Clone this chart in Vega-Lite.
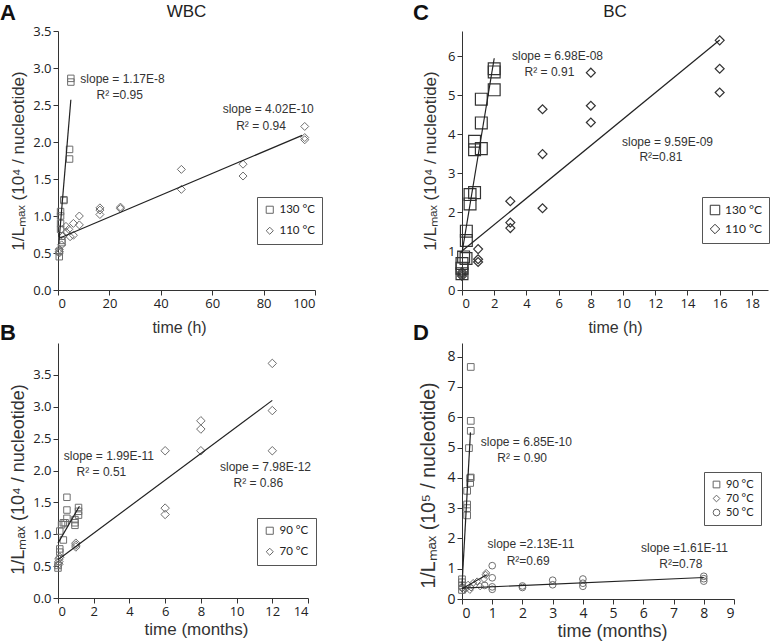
{
  "$schema": "https://vega.github.io/schema/vega-lite/v6.json",
  "autosize": {"type": "none"},
  "padding": {"left": 58, "top": 31, "right": 713, "bottom": 610},
  "background": "white",
  "bounds": "flush",
  "columns": 2,
  "align": "each",
  "spacing": {"row": 53, "column": 147},
  "config": {
    "view": {"stroke": null},
    "axis": {"grid": false, "domainColor": "#333", "tickColor": "#333", "labelColor": "#222", "labelFont": "Open Sans", "labelFontSize": 13, "titleFont": "Liberation Sans", "titleFontSize": 17, "titleFontWeight": "normal", "titleColor": "#333", "tickSize": 5, "labelPadding": 2},
    "legend": {"labelFont": "Lato", "labelFontSize": 11.5, "labelColor": "#222", "strokeColor": "#555", "padding": 7, "rowPadding": 8, "symbolStrokeWidth": 1, "symbolStrokeColor": "#666", "symbolFillColor": "transparent", "symbolSize": 50, "labelOffset": 4},
    "title": {"font": "Liberation Sans", "fontSize": 22, "fontWeight": "bold", "color": "#111", "anchor": "start", "frame": "group"},
    "text": {"font": "Liberation Sans", "fontSize": 12, "color": "#333"}
  },
  "resolve": {"scale": {"shape": "independent", "x": "independent", "y": "independent"}, "legend": {"shape": "independent"}},
  "concat": [
    {
      "width": 257, "height": 259,
      "data": {"values": [
        {"t": 0.5, "v": 0.45, "temp": "130 °C"}, {"t": 0.5, "v": 0.52, "temp": "130 °C"},
        {"t": 1.5, "v": 0.64, "temp": "130 °C"}, {"t": 1.5, "v": 0.67, "temp": "130 °C"},
        {"t": 1, "v": 0.82, "temp": "130 °C"}, {"t": 1, "v": 0.9, "temp": "130 °C"},
        {"t": 1, "v": 1.0, "temp": "130 °C"}, {"t": 1, "v": 1.06, "temp": "130 °C"},
        {"t": 2.3, "v": 1.21, "temp": "130 °C"}, {"t": 2.3, "v": 1.22, "temp": "130 °C"},
        {"t": 4.5, "v": 1.77, "temp": "130 °C"}, {"t": 4.5, "v": 1.9, "temp": "130 °C"},
        {"t": 5, "v": 2.81, "temp": "130 °C"}, {"t": 5, "v": 2.86, "temp": "130 °C"},
        {"t": 0.5, "v": 0.5, "temp": "110 °C"}, {"t": 0.5, "v": 0.52, "temp": "110 °C"},
        {"t": 0.5, "v": 0.55, "temp": "110 °C"}, {"t": 1.4, "v": 0.61, "temp": "110 °C"},
        {"t": 2, "v": 0.73, "temp": "110 °C"}, {"t": 3.2, "v": 0.78, "temp": "110 °C"},
        {"t": 3.1, "v": 0.86, "temp": "110 °C"}, {"t": 4.2, "v": 0.82, "temp": "110 °C"},
        {"t": 4.7, "v": 0.72, "temp": "110 °C"}, {"t": 6, "v": 0.9, "temp": "110 °C"},
        {"t": 6, "v": 0.74, "temp": "110 °C"}, {"t": 8.3, "v": 1.0, "temp": "110 °C"},
        {"t": 8.3, "v": 0.88, "temp": "110 °C"}, {"t": 16.3, "v": 1.11, "temp": "110 °C"},
        {"t": 16.3, "v": 1.08, "temp": "110 °C"}, {"t": 16.3, "v": 1.02, "temp": "110 °C"},
        {"t": 24.3, "v": 1.12, "temp": "110 °C"}, {"t": 24.3, "v": 1.1, "temp": "110 °C"},
        {"t": 48, "v": 1.63, "temp": "110 °C"}, {"t": 48, "v": 1.36, "temp": "110 °C"},
        {"t": 72, "v": 1.7, "temp": "110 °C"}, {"t": 72, "v": 1.54, "temp": "110 °C"},
        {"t": 96, "v": 2.21, "temp": "110 °C"}, {"t": 96, "v": 2.06, "temp": "110 °C"},
        {"t": 96, "v": 2.03, "temp": "110 °C"}
      ]},
      "encoding": {
        "x": {"field": "t", "type": "quantitative", "scale": {"domain": [0, 100], "nice": false}, "axis": {"values": [0, 20, 40, 60, 80, 100], "title": "time (h)", "titleFontSize": 16, "titlePadding": 9, "titleX": 121}},
        "y": {"field": "v", "type": "quantitative", "scale": {"domain": [0, 3.5], "nice": false}, "axis": {"values": [0, 0.5, 1, 1.5, 2, 2.5, 3, 3.5], "format": ".1f", "title": "1/Lₘₐₓ (10⁴ / nucleotide)", "titlePadding": 5}}
      },
      "layer": [
        {
          "transform": [{"filter": "datum.temp == '130 °C'"}],
          "mark": {"type": "point", "filled": false, "color": "#6e6e6e", "strokeWidth": 1, "opacity": 1, "size": 42},
          "encoding": {"shape": {"field": "temp", "type": "nominal", "scale": {"domain": ["130 °C", "110 °C"], "range": ["square", "diamond"]}, "legend": {"title": null, "orient": "none", "legendX": 199, "legendY": 166}}}
        },
        {
          "transform": [{"filter": "datum.temp == '110 °C'"}],
          "mark": {"type": "point", "filled": false, "color": "#6e6e6e", "strokeWidth": 1, "opacity": 1, "size": 64},
          "encoding": {"shape": {"field": "temp", "type": "nominal"}}
        },
        {
          "data": {"values": [
            {"t": 0.3, "v": 0.62, "temp": "130 °C"}, {"t": 5, "v": 2.57, "temp": "130 °C"},
            {"t": 0.5, "v": 0.7, "temp": "110 °C"}, {"t": 95, "v": 2.09, "temp": "110 °C"}
          ]},
          "mark": {"type": "line", "color": "#222", "strokeWidth": 1.2},
          "encoding": {"detail": {"field": "temp"}}
        },
        {
          "data": {"values": [
            {"t": 25.1, "v": 2.85, "label": "slope = 1.17E-8"},
            {"t": 24, "v": 2.63, "label": "R² =0.95"},
            {"t": 81.8, "v": 2.44, "label": "slope = 4.02E-10"},
            {"t": 79, "v": 2.22, "label": "R² = 0.94"}
          ]},
          "mark": {"type": "text", "align": "center", "baseline": "middle"},
          "encoding": {"text": {"field": "label"}}
        },
        {
          "data": {"values": [{"t": 50, "v": 3.5, "label": "WBC"}]},
          "mark": {"type": "text", "align": "center", "baseline": "middle", "fontSize": 17, "color": "#222", "dy": -19},
          "encoding": {"text": {"field": "label"}}
        },
        {
          "data": {"values": [{"t": 0, "v": 3.5, "label": "A"}]},
          "mark": {"type": "text", "align": "left", "baseline": "middle", "fontSize": 22, "fontWeight": "bold", "color": "#111", "dx": -58, "dy": -18},
          "encoding": {"text": {"field": "label"}}
        }
      ]
    },
    {
      "width": 306, "height": 259,
      "data": {"values": [
        {"t": 0, "v": 0.42, "temp": "130 °C"}, {"t": 0, "v": 0.56, "temp": "130 °C"},
        {"t": 0, "v": 0.68, "temp": "130 °C"}, {"t": 0.1, "v": 0.85, "temp": "130 °C"},
        {"t": 0.25, "v": 0.81, "temp": "130 °C"}, {"t": 0.27, "v": 1.51, "temp": "130 °C"},
        {"t": 0.27, "v": 1.27, "temp": "130 °C"}, {"t": 0.5, "v": 2.45, "temp": "130 °C"},
        {"t": 0.5, "v": 2.21, "temp": "130 °C"}, {"t": 0.78, "v": 2.5, "temp": "130 °C"},
        {"t": 0.78, "v": 3.82, "temp": "130 °C"}, {"t": 0.78, "v": 3.6, "temp": "130 °C"},
        {"t": 1.2, "v": 4.9, "temp": "130 °C"}, {"t": 1.2, "v": 4.29, "temp": "130 °C"},
        {"t": 1.2, "v": 3.63, "temp": "130 °C"}, {"t": 2, "v": 5.68, "temp": "130 °C"},
        {"t": 2, "v": 5.6, "temp": "130 °C"}, {"t": 2, "v": 5.14, "temp": "130 °C"},
        {"t": 0, "v": 0.46, "temp": "110 °C"}, {"t": 0, "v": 0.41, "temp": "110 °C"},
        {"t": 0, "v": 0.36, "temp": "110 °C"},
        {"t": 1, "v": 1.05, "temp": "110 °C"}, {"t": 1, "v": 0.79, "temp": "110 °C"},
        {"t": 1, "v": 0.72, "temp": "110 °C"},
        {"t": 3, "v": 2.28, "temp": "110 °C"}, {"t": 3, "v": 1.73, "temp": "110 °C"},
        {"t": 3, "v": 1.59, "temp": "110 °C"},
        {"t": 5, "v": 4.64, "temp": "110 °C"}, {"t": 5, "v": 3.49, "temp": "110 °C"},
        {"t": 5, "v": 2.1, "temp": "110 °C"},
        {"t": 8, "v": 5.58, "temp": "110 °C"}, {"t": 8, "v": 4.73, "temp": "110 °C"},
        {"t": 8, "v": 4.3, "temp": "110 °C"},
        {"t": 16, "v": 6.41, "temp": "110 °C"}, {"t": 16, "v": 5.68, "temp": "110 °C"},
        {"t": 16, "v": 5.07, "temp": "110 °C"}
      ]},
      "encoding": {
        "x": {"field": "t", "type": "quantitative", "scale": {"domain": [0, 19], "nice": false}, "axis": {"values": [0, 2, 4, 6, 8, 10, 12, 14, 16, 18], "title": "time (h)", "titleFontSize": 16, "titlePadding": 9}},
        "y": {"field": "v", "type": "quantitative", "scale": {"domain": [0, 6.65], "nice": false}, "axis": {"values": [0, 1, 2, 3, 4, 5, 6], "title": "1/Lₘₐₓ (10⁴ / nucleotide)", "titlePadding": 8}}
      },
      "layer": [
        {
          "transform": [{"filter": "datum.temp == '130 °C'"}],
          "mark": {"type": "point", "filled": false, "color": "#333", "strokeWidth": 1.2, "opacity": 1, "size": 140},
          "encoding": {"shape": {"field": "temp", "type": "nominal", "scale": {"domain": ["130 °C", "110 °C"], "range": ["square", "diamond"]}, "legend": {"title": null, "orient": "none", "legendX": 240, "legendY": 166, "labelFontSize": 12, "symbolSize": 90, "symbolStrokeColor": "#333", "rowPadding": 5}}}
        },
        {
          "transform": [{"filter": "datum.temp == '110 °C'"}],
          "mark": {"type": "point", "filled": false, "color": "#333", "strokeWidth": 1.2, "opacity": 1, "size": 80},
          "encoding": {"shape": {"field": "temp", "type": "nominal"}}
        },
        {
          "data": {"values": [
            {"t": 0, "v": 0.95, "temp": "130 °C"}, {"t": 2, "v": 5.95, "temp": "130 °C"},
            {"t": 0, "v": 1.0, "temp": "110 °C"}, {"t": 16, "v": 6.42, "temp": "110 °C"}
          ]},
          "mark": {"type": "line", "color": "#222", "strokeWidth": 1.2},
          "encoding": {"detail": {"field": "temp"}}
        },
        {
          "data": {"values": [
            {"t": 5.93, "v": 6.0, "label": "slope = 6.98E-08"},
            {"t": 5.43, "v": 5.6, "label": "R² = 0.91"},
            {"t": 12.76, "v": 3.8, "label": "slope = 9.59E-09"},
            {"t": 12.35, "v": 3.42, "label": "R²=0.81"}
          ]},
          "mark": {"type": "text", "align": "center", "baseline": "middle"},
          "encoding": {"text": {"field": "label"}}
        },
        {
          "data": {"values": [{"t": 9.5, "v": 6.65, "label": "BC"}]},
          "mark": {"type": "text", "align": "center", "baseline": "middle", "fontSize": 17, "color": "#222", "dy": -19},
          "encoding": {"text": {"field": "label"}}
        },
        {
          "data": {"values": [{"t": 0, "v": 6.65, "label": "C"}]},
          "mark": {"type": "text", "align": "left", "baseline": "middle", "fontSize": 22, "fontWeight": "bold", "color": "#111", "dx": -49, "dy": -18},
          "encoding": {"text": {"field": "label"}}
        }
      ]
    },
    {
      "width": 250, "height": 255,
      "title": {"text": "B", "dx": -58, "dy": 6},
      "data": {"values": [
        {"t": 0, "v": 0.47, "temp": "90 °C"}, {"t": 0, "v": 0.51, "temp": "90 °C"},
        {"t": 0.1, "v": 0.72, "temp": "90 °C"}, {"t": 0.1, "v": 0.77, "temp": "90 °C"},
        {"t": 0.1, "v": 1.05, "temp": "90 °C"}, {"t": 0.2, "v": 1.15, "temp": "90 °C"},
        {"t": 0.3, "v": 1.18, "temp": "90 °C"}, {"t": 0.3, "v": 0.91, "temp": "90 °C"},
        {"t": 0.4, "v": 1.18, "temp": "90 °C"}, {"t": 0.5, "v": 1.58, "temp": "90 °C"},
        {"t": 0.5, "v": 1.38, "temp": "90 °C"}, {"t": 0.5, "v": 1.25, "temp": "90 °C"},
        {"t": 0.95, "v": 1.23, "temp": "90 °C"}, {"t": 0.95, "v": 1.18, "temp": "90 °C"},
        {"t": 0.95, "v": 1.14, "temp": "90 °C"}, {"t": 1.15, "v": 1.42, "temp": "90 °C"},
        {"t": 1.15, "v": 1.36, "temp": "90 °C"}, {"t": 1.15, "v": 1.3, "temp": "90 °C"},
        {"t": 0.05, "v": 0.53, "temp": "70 °C"}, {"t": 0.05, "v": 0.57, "temp": "70 °C"},
        {"t": 0.05, "v": 0.61, "temp": "70 °C"}, {"t": 0.1, "v": 0.64, "temp": "70 °C"},
        {"t": 1, "v": 0.86, "temp": "70 °C"}, {"t": 1, "v": 0.83, "temp": "70 °C"},
        {"t": 1, "v": 0.8, "temp": "70 °C"},
        {"t": 6, "v": 2.31, "temp": "70 °C"}, {"t": 6, "v": 1.41, "temp": "70 °C"},
        {"t": 6, "v": 1.31, "temp": "70 °C"},
        {"t": 8, "v": 2.78, "temp": "70 °C"}, {"t": 8, "v": 2.65, "temp": "70 °C"},
        {"t": 8, "v": 2.31, "temp": "70 °C"},
        {"t": 12, "v": 3.68, "temp": "70 °C"}, {"t": 12, "v": 2.94, "temp": "70 °C"},
        {"t": 12, "v": 2.31, "temp": "70 °C"}
      ]},
      "encoding": {
        "x": {"field": "t", "type": "quantitative", "scale": {"domain": [0, 14], "nice": false}, "axis": {"values": [0, 2, 4, 6, 8, 10, 12, 14], "title": "time (months)", "titlePadding": 3, "titleX": 138}},
        "y": {"field": "v", "type": "quantitative", "scale": {"domain": [0, 4], "nice": false}, "axis": {"values": [0, 0.5, 1, 1.5, 2, 2.5, 3, 3.5], "format": ".1f", "title": "1/Lₘₐₓ (10⁴ / nucleotide)", "titleFontSize": 18, "titlePadding": 5, "titleY": 136}}
      },
      "layer": [
        {
          "transform": [{"filter": "datum.temp == '90 °C'"}],
          "mark": {"type": "point", "filled": false, "color": "#6e6e6e", "strokeWidth": 1, "opacity": 1, "size": 42},
          "encoding": {"shape": {"field": "temp", "type": "nominal", "scale": {"domain": ["90 °C", "70 °C"], "range": ["square", "diamond"]}, "legend": {"title": null, "orient": "none", "legendX": 199, "legendY": 175}}}
        },
        {
          "transform": [{"filter": "datum.temp == '70 °C'"}],
          "mark": {"type": "point", "filled": false, "color": "#6e6e6e", "strokeWidth": 1, "opacity": 1, "size": 72},
          "encoding": {"shape": {"field": "temp", "type": "nominal"}}
        },
        {
          "data": {"values": [
            {"t": 0, "v": 0.86, "temp": "90 °C"}, {"t": 1.2, "v": 1.44, "temp": "90 °C"},
            {"t": 0, "v": 0.6, "temp": "70 °C"}, {"t": 12, "v": 3.1, "temp": "70 °C"}
          ]},
          "mark": {"type": "line", "color": "#222", "strokeWidth": 1.2},
          "encoding": {"detail": {"field": "temp"}}
        },
        {
          "data": {"values": [
            {"t": 2.85, "v": 2.22, "label": "slope = 1.99E-11"},
            {"t": 2.43, "v": 1.97, "label": "R² = 0.51"},
            {"t": 11.62, "v": 2.06, "label": "slope = 7.98E-12"},
            {"t": 11.22, "v": 1.81, "label": "R² = 0.86"}
          ]},
          "mark": {"type": "text", "align": "center", "baseline": "middle"},
          "encoding": {"text": {"field": "label"}}
        }
      ]
    },
    {
      "width": 272, "height": 256,
      "title": {"text": "D", "dx": -49, "dy": 6},
      "data": {"values": [
        {"t": 0, "v": 0.3, "temp": "90 °C"}, {"t": 0, "v": 0.45, "temp": "90 °C"},
        {"t": 0, "v": 0.55, "temp": "90 °C"}, {"t": 0, "v": 0.65, "temp": "90 °C"},
        {"t": 0.17, "v": 2.76, "temp": "90 °C"}, {"t": 0.17, "v": 3.0, "temp": "90 °C"},
        {"t": 0.17, "v": 3.12, "temp": "90 °C"}, {"t": 0.17, "v": 3.57, "temp": "90 °C"},
        {"t": 0.27, "v": 3.83, "temp": "90 °C"}, {"t": 0.27, "v": 3.99, "temp": "90 °C"},
        {"t": 0.29, "v": 4.01, "temp": "90 °C"}, {"t": 0.23, "v": 4.98, "temp": "90 °C"},
        {"t": 0.29, "v": 5.55, "temp": "90 °C"}, {"t": 0.29, "v": 5.88, "temp": "90 °C"},
        {"t": 0.29, "v": 7.66, "temp": "90 °C"},
        {"t": 0.05, "v": 0.3, "temp": "70 °C"}, {"t": 0.12, "v": 0.33, "temp": "70 °C"},
        {"t": 0.2, "v": 0.47, "temp": "70 °C"}, {"t": 0.26, "v": 0.3, "temp": "70 °C"},
        {"t": 0.3, "v": 0.38, "temp": "70 °C"}, {"t": 0.37, "v": 0.53, "temp": "70 °C"},
        {"t": 0.5, "v": 0.58, "temp": "70 °C"}, {"t": 0.6, "v": 0.42, "temp": "70 °C"},
        {"t": 0.73, "v": 0.66, "temp": "70 °C"}, {"t": 0.78, "v": 0.8, "temp": "70 °C"},
        {"t": 0.8, "v": 0.86, "temp": "70 °C"},
        {"t": 0, "v": 0.38, "temp": "50 °C"}, {"t": 0.75, "v": 0.45, "temp": "50 °C"},
        {"t": 1, "v": 1.1, "temp": "50 °C"}, {"t": 1, "v": 0.7, "temp": "50 °C"},
        {"t": 1, "v": 0.4, "temp": "50 °C"}, {"t": 1, "v": 0.32, "temp": "50 °C"},
        {"t": 2, "v": 0.43, "temp": "50 °C"}, {"t": 2, "v": 0.38, "temp": "50 °C"},
        {"t": 3, "v": 0.62, "temp": "50 °C"}, {"t": 3, "v": 0.47, "temp": "50 °C"},
        {"t": 4, "v": 0.66, "temp": "50 °C"}, {"t": 4, "v": 0.52, "temp": "50 °C"},
        {"t": 4, "v": 0.42, "temp": "50 °C"},
        {"t": 8, "v": 0.75, "temp": "50 °C"}, {"t": 8, "v": 0.67, "temp": "50 °C"},
        {"t": 8, "v": 0.59, "temp": "50 °C"}
      ]},
      "encoding": {
        "x": {"field": "t", "type": "quantitative", "scale": {"domain": [0, 9], "nice": false}, "axis": {"values": [0, 1, 2, 3, 4, 5, 6, 7, 8, 9], "title": "time (months)", "titleFontSize": 18, "titlePadding": 2, "labelFontSize": 14, "titleX": 150}},
        "y": {"field": "v", "type": "quantitative", "scale": {"domain": [0, 8.45], "nice": false}, "axis": {"values": [0, 1, 2, 3, 4, 5, 6, 7, 8], "title": "1/Lₘₐₓ (10⁵ / nucleotide)", "titleFontSize": 19.5, "titlePadding": 8, "labelFontSize": 14, "titleY": 142}}
      },
      "layer": [
        {
          "transform": [{"filter": "datum.temp == '90 °C'"}],
          "mark": {"type": "point", "filled": false, "color": "#6e6e6e", "strokeWidth": 1, "opacity": 1, "size": 45},
          "encoding": {"shape": {"field": "temp", "type": "nominal", "scale": {"domain": ["90 °C", "70 °C", "50 °C"], "range": ["square", "diamond", "circle"]}, "legend": {"title": null, "orient": "none", "legendX": 242, "legendY": 129, "rowPadding": 2, "labelFontSize": 11, "symbolSize": 45}}}
        },
        {
          "transform": [{"filter": "datum.temp == '70 °C'"}],
          "mark": {"type": "point", "filled": false, "color": "#6e6e6e", "strokeWidth": 1, "opacity": 1, "size": 50},
          "encoding": {"shape": {"field": "temp", "type": "nominal"}}
        },
        {
          "transform": [{"filter": "datum.temp == '50 °C'"}],
          "mark": {"type": "point", "filled": false, "color": "#6e6e6e", "strokeWidth": 1, "opacity": 1, "size": 45},
          "encoding": {"shape": {"field": "temp", "type": "nominal"}}
        },
        {
          "data": {"values": [
            {"t": 0, "v": 0.45, "temp": "90 °C"}, {"t": 0.28, "v": 5.5, "temp": "90 °C"},
            {"t": 0, "v": 0.34, "temp": "70 °C"}, {"t": 0.82, "v": 0.8, "temp": "70 °C"},
            {"t": 0, "v": 0.36, "temp": "50 °C"}, {"t": 8, "v": 0.71, "temp": "50 °C"}
          ]},
          "mark": {"type": "line", "color": "#222", "strokeWidth": 1.2},
          "encoding": {"detail": {"field": "temp"}}
        },
        {
          "data": {"values": [
            {"t": 2.13, "v": 5.17, "label": "slope = 6.85E-10"},
            {"t": 1.99, "v": 4.65, "label": "R² = 0.90"},
            {"t": 2.28, "v": 1.81, "label": "slope =2.13E-11"},
            {"t": 2.19, "v": 1.27, "label": "R²=0.69"},
            {"t": 7.36, "v": 1.68, "label": "slope =1.61E-11"},
            {"t": 7.24, "v": 1.17, "label": "R²=0.78"}
          ]},
          "mark": {"type": "text", "align": "center", "baseline": "middle"},
          "encoding": {"text": {"field": "label"}}
        }
      ]
    }
  ]
}
